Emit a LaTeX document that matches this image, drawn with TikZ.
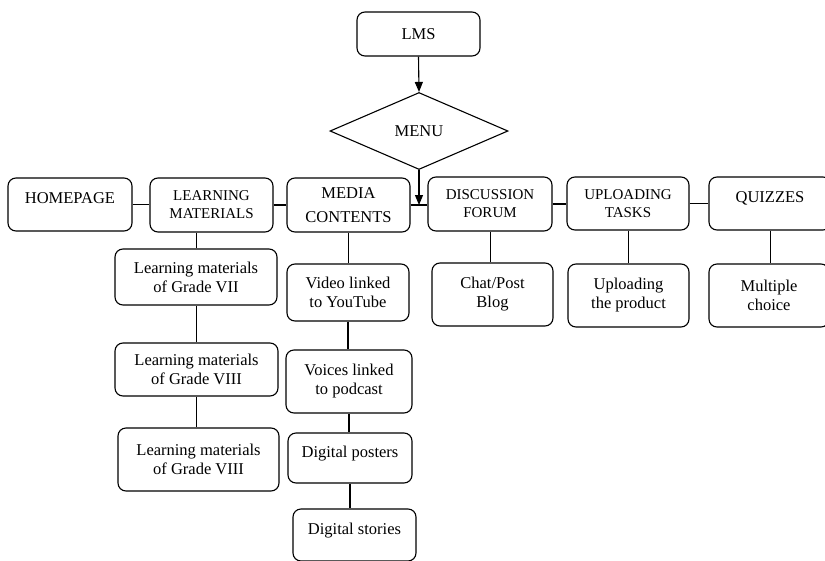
\documentclass[tikz,border=0pt]{standalone}
\usepackage{fontspec}
\setmainfont{Liberation Serif}
\usetikzlibrary{shapes.geometric,arrows.meta}

\begin{document}
\begin{tikzpicture}[x=1pt,y=-1pt,
    box/.style={draw,line width=1.1pt,rounded corners=8pt,align=center,inner sep=2pt,
      font=\fontsize{16.5}{19}\selectfont},
    capsbox/.style={box,font=\fontsize{15}{18}\selectfont},
    raised/.style={text height=11pt,text depth=13pt},
    link/.style={line width=1.1pt},
    thinlink/.style={line width=0.6pt},
    arrow/.style={line width=1.1pt,-{Triangle[width=8pt,length=10pt]}}]
    \useasboundingbox (0,0) rectangle (825,560);

    \node[box,minimum width=123pt,minimum height=44pt] (lms) at (418.5,34) {LMS};
    \node[diamond,draw,line width=1.1pt,aspect=2.3,inner sep=1pt,
      minimum width=178pt,minimum height=77pt,font=\fontsize{16.5}{19}\selectfont]
      (menu) at (419,131) {MENU};

    \node[box,raised,minimum width=124pt,minimum height=53pt] (home) at (70,204.5) {HOMEPAGE};
    \node[capsbox,minimum width=123pt,minimum height=54pt] (lmat) at (211.5,205) {LEARNING\\MATERIALS};
    \node[box,minimum width=123pt,minimum height=54pt] (media) at (348.5,205) {MEDIA\\[5pt]CONTENTS};
    \node[capsbox,minimum width=124pt,minimum height=54pt] (forum) at (490,204) {DISCUSSION\\FORUM};
    \node[capsbox,minimum width=122pt,minimum height=53pt] (upload) at (628,203.5) {UPLOADING\\TASKS};
    \node[box,raised,minimum width=122pt,minimum height=53pt] (quiz) at (770,203.5) {QUIZZES};

    \node[box,minimum width=162pt,minimum height=56pt] (lm7) at (196,277) {Learning materials\\of Grade VII};
    \node[box,minimum width=163pt,minimum height=53pt] (lm8) at (196.5,369.5) {Learning materials\\of Grade VIII};
    \node[box,minimum width=161pt,minimum height=63pt] (lm8b) at (198.5,459.5) {Learning materials\\of Grade VIII};

    \node[box,minimum width=122pt,minimum height=57pt] (video) at (348,292.5) {Video linked\\to YouTube};
    \node[box,minimum width=126pt,minimum height=63pt] (voice) at (349,381.5) {Voices linked\\to podcast};
    \node[box,raised,minimum width=124pt,minimum height=50pt] (poster) at (350,458) {Digital posters};
    \node[box,raised,minimum width=123pt,minimum height=52pt] (story) at (354.5,535) {Digital stories};

    \node[box,minimum width=121pt,minimum height=63pt] (chat) at (492.5,294.5) {Chat/Post\\Blog};
    \node[box,minimum width=121pt,minimum height=63pt] (product) at (628.5,295.5) {Uploading\\the product};
    \node[box,minimum width=120pt,minimum height=63pt] (choice) at (769,295.5) {Multiple\\choice};

    \draw[arrow] (lms.south) -- (menu.north);
    \draw[arrow] (menu.south) -- (menu.south |- media.east);

    \draw[link] (home.east) -- (home.east -| lmat.west);
    \draw[link] (lmat.east) -- (lmat.east -| media.west);
    \draw[link] (media.east) -- (media.east -| forum.west);
    \draw[link] (forum.east) -- (forum.east -| upload.west);
    \draw[link] (upload.east) -- (upload.east -| quiz.west);

    \draw[thinlink] (lm7.north) -- (lm7.north |- lmat.south);
    \draw[thinlink] (lm8.north) -- (lm8.north |- lm7.south);
    \draw[thinlink] (lm8.south) -- (lm8.south |- lm8b.north);

    \draw[link] (media.south) -- (media.south |- video.north);
    \draw[link] (video.south) -- (video.south |- voice.north);
    \draw[link] (voice.south) -- (voice.south |- poster.north);
    \draw[link] (poster.south) -- (poster.south |- story.north);

    \draw[thinlink] (forum.south) -- (forum.south |- chat.north);
    \draw[thinlink] (upload.south) -- (upload.south |- product.north);
    \draw[thinlink] (quiz.south) -- (quiz.south |- choice.north);
\end{tikzpicture}
\end{document}
